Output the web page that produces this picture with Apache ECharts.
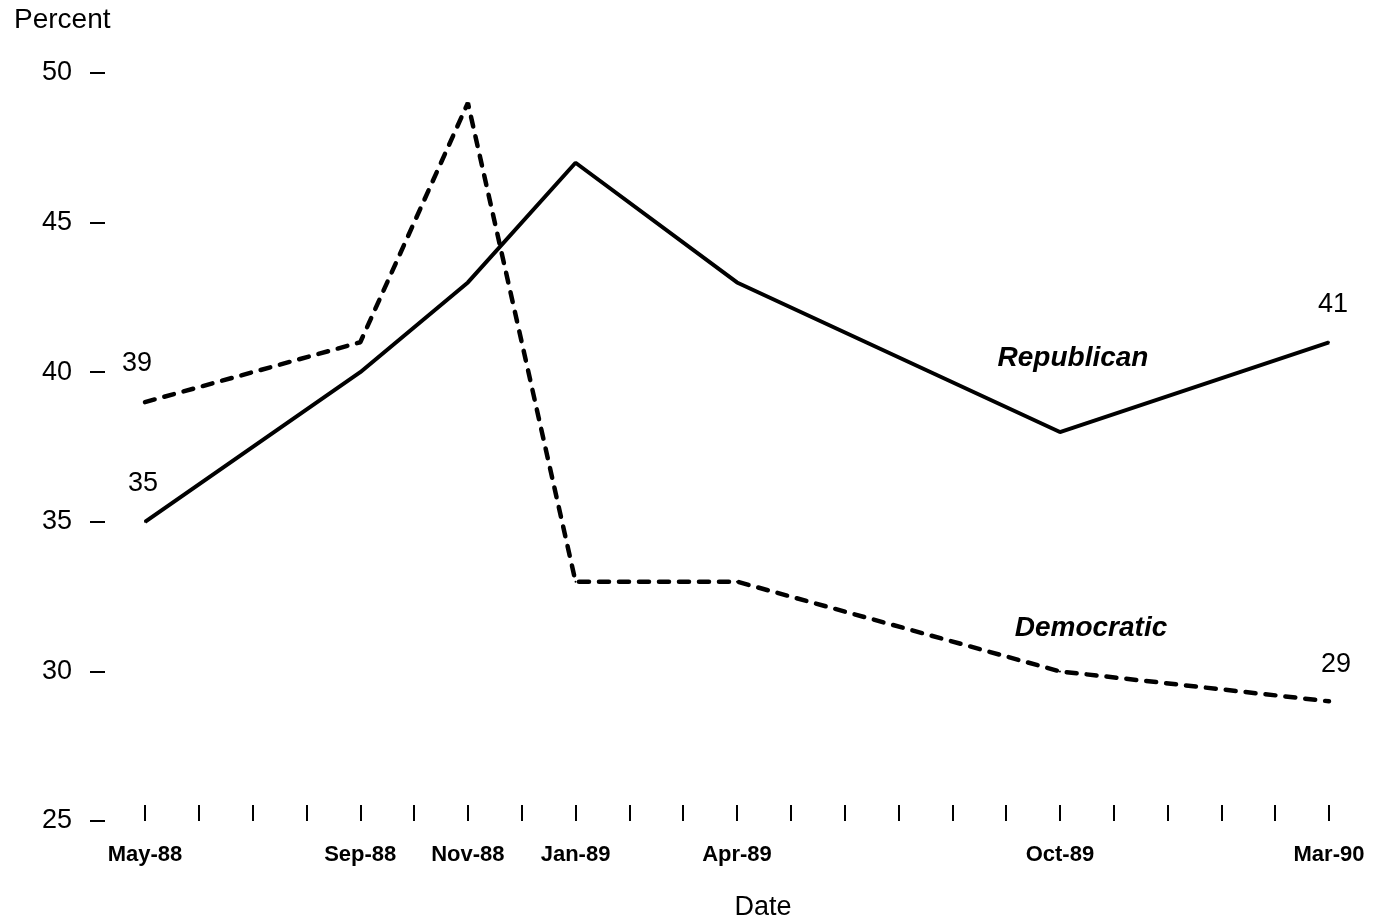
<!DOCTYPE html>
<html>
<head>
<meta charset="utf-8">
<script src="https://cdn.jsdelivr.net/npm/echarts@6/dist/echarts.min.js"></script>
<style>
html,body{margin:0;padding:0;background:#fff;}
#chart{width:1379px;height:922px;}
</style>
</head>
<body>
<div id="chart"></div>
<script>
// All months on the axis (one tick per month)
const months = ['May-88','Jun-88','Jul-88','Aug-88','Sep-88','Oct-88','Nov-88','Dec-88',
  'Jan-89','Feb-89','Mar-89','Apr-89','May-89','Jun-89','Jul-89','Aug-89','Sep-89',
  'Oct-89','Nov-89','Dec-89','Jan-90','Feb-90','Mar-90'];
// Survey dates (labeled ticks)
const surveyDates = ['May-88','Sep-88','Nov-88','Jan-89','Apr-89','Oct-89','Mar-90'];
const republican = [35, 40, 43, 47, 43, 38, 41];
const democratic = [39, 41, 49, 33, 33, 30, 29];
const yTicks = { min: 25, max: 50, step: 5 };

const FONT = '"Liberation Sans", Arial, Helvetica, sans-serif';

function buildData(values, offsets) {
  return values.map((v, i) => {
    const item = { value: [surveyDates[i], v] };
    if (offsets[i]) {
      item.label = { show: true, offset: offsets[i] };
    }
    return item;
  });
}

const chart = echarts.init(document.getElementById('chart'));
chart.setOption({
  backgroundColor: '#fff',
  animation: false,
  grid: { left: 145, right: 50, top: 73, bottom: 101, containLabel: false },
  xAxis: {
    type: 'category',
    data: months,
    boundaryGap: false,
    axisLine: { show: false },
    axisTick: { show: true, inside: true, length: 16, interval: 0,
      lineStyle: { color: '#000', width: 2 } },
    axisLabel: {
      interval: (idx, val) => surveyDates.indexOf(val) >= 0,
      color: '#000', fontFamily: FONT, fontSize: 22, fontWeight: 'bold', margin: 23
    },
    splitLine: { show: false }
  },
  yAxis: {
    type: 'value',
    min: yTicks.min, max: yTicks.max, interval: yTicks.step,
    offset: 40,
    axisLine: { show: false },
    axisTick: { show: true, length: 15, lineStyle: { color: '#000', width: 2 } },
    axisLabel: { color: '#000', fontFamily: FONT, fontSize: 27, margin: 33 },
    splitLine: { show: false }
  },
  series: [
    {
      name: 'Republican',
      type: 'line',
      symbol: 'circle',
      symbolSize: 2,
      showSymbol: true,
      itemStyle: { color: '#000' },
      lineStyle: { color: '#000', width: 4 },
      label: { show: false, position: 'top', distance: 5, color: '#000', fontFamily: FONT, fontSize: 27 },
      data: buildData(republican, { 0: [-2, -19], 6: [4, -18] })
    },
    {
      name: 'Democratic',
      type: 'line',
      symbol: 'circle',
      symbolSize: 2,
      showSymbol: true,
      itemStyle: { color: '#000' },
      lineStyle: { color: '#000', width: 4.5, type: [10, 10], cap: 'round' },
      label: { show: false, position: 'top', distance: 5, color: '#000', fontFamily: FONT, fontSize: 27 },
      data: buildData(democratic, { 0: [-8, -19], 6: [7, -17] })
    }
  ],
  graphic: [
    { type: 'text', left: 14, top: 6,
      style: { text: 'Percent', fill: '#000', font: '28px ' + FONT } },
    { type: 'text', x: 763, y: 908,
      style: { text: 'Date', fill: '#000', font: '27px ' + FONT, align: 'center', verticalAlign: 'middle' } },
    { type: 'text', x: 1073, y: 358,
      style: { text: 'Republican', fill: '#000', font: 'italic bold 28px ' + FONT, align: 'center', verticalAlign: 'middle' } },
    { type: 'text', x: 1091, y: 628,
      style: { text: 'Democratic', fill: '#000', font: 'italic bold 28px ' + FONT, align: 'center', verticalAlign: 'middle' } }
  ]
});
</script>
</body>
</html>
